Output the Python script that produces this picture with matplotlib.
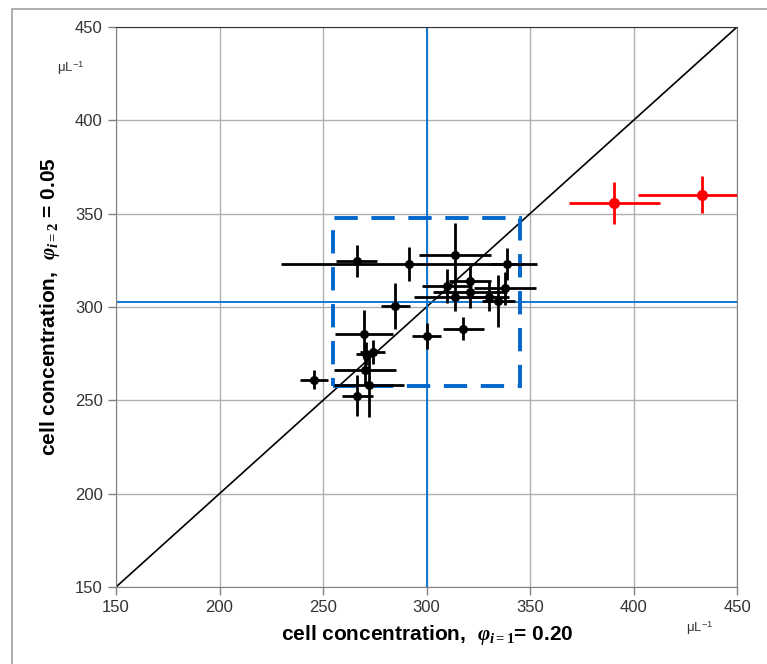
import numpy as np
import matplotlib.pyplot as plt
from matplotlib.patches import Rectangle

plt.rcParams['font.family'] = ['Liberation Sans', 'DejaVu Sans']
plt.rcParams['mathtext.fontset'] = 'custom'
plt.rcParams['mathtext.it'] = 'Liberation Serif:italic:bold'
plt.rcParams['mathtext.rm'] = 'Liberation Serif:bold'

# black points: cell concentration at phi=0.20 (x) and phi=0.05 (y)
x_vals = [245.5, 266.3, 291.5, 313.8, 339.0, 321.0, 310.0, 321.0, 313.8, 330.0,
          334.7, 338.0, 285.0, 317.8, 300.0, 269.8, 274.0, 270.8, 270.3, 272.2, 266.6]
y_vals = [261.0, 324.8, 323.0, 328.0, 323.2, 314.0, 311.3, 308.3, 305.6, 305.6,
          303.3, 310.0, 300.6, 288.4, 284.3, 285.4, 275.7, 275.0, 266.2, 258.2, 252.5]
x_err = [6.8, 10.0, 62.0, 17.5, 8.0, 10.0, 12.0, 18.0, 20.0, 10.0,
         8.0, 15.0, 7.0, 10.0, 7.0, 14.0, 6.0, 5.0, 15.0, 17.0, 7.5]
y_err = [5.0, 8.5, 9.0, 17.0, 8.5, 8.0, 9.0, 9.0, 8.0, 8.0,
         14.0, 9.0, 12.5, 6.0, 7.0, 13.0, 6.5, 6.0, 8.0, 17.0, 11.0]

# outliers (red)
x_out = [390.6, 433.2]
y_out = [355.7, 360.2]
x_out_err = [22.0, 31.0]
y_out_err = [11.3, 10.0]

x_ref = 300.0
y_ref = 302.9
box_half = 45.0

ticks = [150, 200, 250, 300, 350, 400, 450]

fig = plt.figure(figsize=(7.67, 6.64), dpi=100)
ax = fig.add_axes([116/767, 1-587/664, 621/767, 560/664])

# outer frame (only top and left edges visible)
fig.patches.append(Rectangle((12/767, -0.1), 1.0, 1.1-9/664, transform=fig.transFigure,
                             fill=False, edgecolor='#a0a0a0', linewidth=1.2))

ax.plot([150, 450], [150, 450], color='black', linewidth=1.2, zorder=2)
ax.axvline(x_ref, color='#0070d0', linewidth=1.3, zorder=2)
ax.axhline(y_ref, color='#0070d0', linewidth=1.3, zorder=2)
ax.add_patch(Rectangle((x_ref-box_half, y_ref-box_half), 2*box_half, 2*box_half,
                       fill=False, edgecolor='#0066cc', linewidth=2.8,
                       linestyle=(0, (6, 3.5)), zorder=2))

ax.errorbar(x_vals, y_vals, xerr=x_err, yerr=y_err, fmt='o', color='black',
            markersize=5.5, elinewidth=2, capsize=0, zorder=3)
ax.errorbar(x_out, y_out, xerr=x_out_err, yerr=y_out_err, fmt='o', color='#ff0000',
            markersize=7, elinewidth=2, capsize=0, zorder=3)

ax.set_xlim(150, 450)
ax.set_ylim(150, 450)
ax.set_xticks(ticks)
ax.set_yticks(ticks)
ax.grid(True, color='#b0b0b0', linewidth=1)
ax.set_axisbelow(True)
ax.tick_params(labelsize=12, labelcolor='#333333', length=6, color='#808080', width=1)
for side in ['left', 'bottom', 'right']:
    ax.spines[side].set_color('#808080')
ax.spines['top'].set_color('#333333')

fig.text(427/767, 1-635/664, r'cell concentration,  $\varphi_{i=1}$= 0.20',
         ha='center', va='center', fontsize=15, fontweight='bold')
fig.text(50/767, 1-307/664, r'cell concentration,  $\varphi_{i=2}$ = 0.05',
         ha='center', va='center', fontsize=15, fontweight='bold', rotation=90)
fig.text(71/767, 1-68/664, r'μL$^{\mathregular{-1}}$', ha='center', va='center',
         fontsize=9.5, color='#333333')
fig.text(700/767, 1-628/664, r'μL$^{\mathregular{-1}}$', ha='center', va='center',
         fontsize=9.5, color='#333333')

fig.savefig('out.png', dpi=100)
